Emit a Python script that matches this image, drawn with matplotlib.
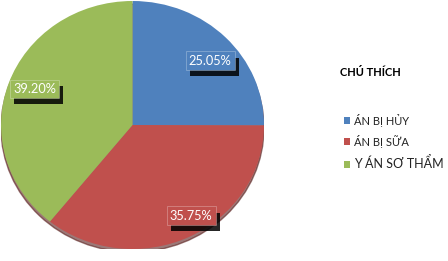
import matplotlib
matplotlib.use("Agg")
import matplotlib.pyplot as plt
import matplotlib.patheffects as pe
from matplotlib.patches import Ellipse

categories = ["ÁN BỊ HỦY", "ÁN BỊ SỮA", "Y ÁN SƠ THẨM"]
values = [25.05, 35.75, 39.20]
colors = ["#4F81BD", "#C0504D", "#9BBB59"]
legend_title = "CHÚ THÍCH"
# label anchor positions (fraction of radius, x/y)
label_pos = [(0.59, 0.52), (0.445, -0.73), (-0.745, 0.29)]

plt.rcParams['font.family'] = ['Lato', 'DejaVu Sans']

W, H = 448, 261
fig = plt.figure(figsize=(W / 100, H / 100), dpi=100)

left, top, pw, ph = 1, 1, 263, 248
ax = fig.add_axes([left / W, 1 - (top + ph) / H, pw / W, ph / H])

ax.add_patch(Ellipse((0, -0.025), 2.0, 2.0, color="#5a1f1d", alpha=0.6, zorder=0))

wedges, texts, autotexts = ax.pie(
    values, colors=colors, startangle=90, counterclock=False,
    autopct="%.2f%%", pctdistance=0.8, radius=1,
    wedgeprops=dict(linewidth=0, zorder=1),
    textprops=dict(color="white", fontsize=9.2),
    frame=True,
)
ax.set_aspect("auto")
ax.set_xlim(-1, 1)
ax.set_ylim(-1, 1)
ax.axis("off")

for t, c, p in zip(autotexts, colors, label_pos):
    t.set_position(p)
    t.set_zorder(5)
    t.set_bbox(dict(boxstyle="square,pad=0.25", facecolor=c, edgecolor=(1, 1, 1, 0.3), linewidth=0.6))
    t.get_bbox_patch().set_path_effects([
        pe.withSimplePatchShadow(offset=(3, -4.5), shadow_rgbFace="black", alpha=0.85),
    ])

fig.text(370 / W, 1 - 73 / H, legend_title, ha="center", va="center",
         fontsize=8, fontweight="bold", color="black")

leg = fig.legend(wedges, categories, loc="upper left",
                 bbox_to_anchor=(338 / W, 1 - 108 / H),
                 frameon=False, fontsize=8, handlelength=0.6, handleheight=0.6,
                 handletextpad=0.35, labelspacing=0.75, borderpad=0)
for i, t in enumerate(leg.get_texts()):
    t.set_color("#222222")
    if i == 2:
        t.set_fontsize(9)

fig.savefig("out.png", dpi=100)
